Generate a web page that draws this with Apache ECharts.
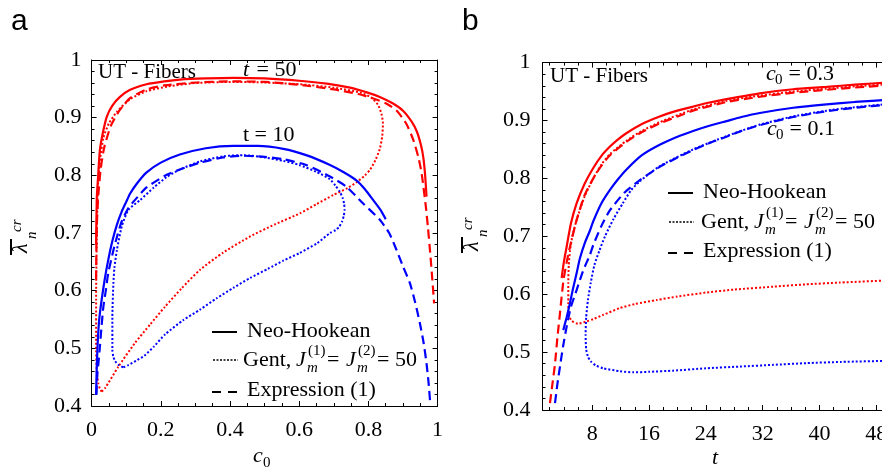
<!DOCTYPE html>
<html>
<head>
<meta charset="utf-8">
<script src="https://cdn.jsdelivr.net/npm/echarts@6/dist/echarts.min.js"></script>
<style>
html,body{margin:0;padding:0;overflow:hidden;background:#fff;}
#chart{width:900px;height:468px;}
</style>
</head>
<body>
<div id="chart"></div>
<script>
// ---------------- data: panel a (x = c0, y = lambda_n^cr) ----------------
const aRedNH = [[0.013,0.68],[0.015,0.76],[0.019,0.80],[0.024,0.844],[0.033,0.875],[0.044,0.902],[0.06,0.921],[0.082,0.936],[0.11,0.948],[0.159,0.958],[0.21,0.963],[0.255,0.966],[0.33,0.968],[0.41,0.969],[0.50,0.968],[0.60,0.964],[0.68,0.959],[0.747,0.952],[0.80,0.943],[0.833,0.936],[0.87,0.925],[0.90,0.912],[0.925,0.893],[0.94,0.876],[0.952,0.852],[0.959,0.83],[0.964,0.80],[0.968,0.763]];
const aRedExpr = [[0.013,0.62],[0.014,0.68],[0.016,0.73],[0.02,0.77],[0.026,0.81],[0.036,0.847],[0.055,0.885],[0.08,0.912],[0.111,0.934],[0.159,0.949],[0.21,0.956],[0.304,0.961],[0.40,0.963],[0.50,0.962],[0.60,0.957],[0.70,0.949],[0.77,0.941],[0.805,0.935],[0.85,0.925],[0.882,0.912],[0.91,0.889],[0.93,0.861],[0.945,0.83],[0.954,0.803],[0.966,0.746],[0.972,0.71],[0.978,0.67],[0.984,0.625],[0.99,0.578]];
const aRedGent = [[0.029,0.425],[0.039,0.431],[0.077,0.468],[0.125,0.509],[0.17,0.542],[0.212,0.572],[0.26,0.604],[0.313,0.636],[0.38,0.666],[0.458,0.694],[0.53,0.715],[0.602,0.734],[0.65,0.75],[0.699,0.766],[0.74,0.778],[0.766,0.788],[0.79,0.8],[0.805,0.81],[0.82,0.826],[0.833,0.846],[0.84,0.868],[0.842,0.89],[0.838,0.906],[0.828,0.922],[0.81,0.934],[0.78,0.943],[0.70,0.952],[0.60,0.958],[0.50,0.961],[0.41,0.962],[0.30,0.96],[0.22,0.954],[0.159,0.946],[0.111,0.932],[0.073,0.91],[0.05,0.89],[0.034,0.865],[0.025,0.83],[0.019,0.786],[0.015,0.70],[0.013,0.584],[0.013,0.497],[0.015,0.46],[0.019,0.44],[0.024,0.43],[0.029,0.425]];
const aBlueNH = [[0.013,0.419],[0.015,0.47],[0.018,0.514],[0.022,0.55],[0.029,0.584],[0.038,0.62],[0.048,0.653],[0.06,0.686],[0.073,0.714],[0.087,0.737],[0.10,0.754],[0.111,0.768],[0.13,0.785],[0.159,0.805],[0.20,0.822],[0.255,0.836],[0.33,0.847],[0.41,0.851],[0.48,0.851],[0.554,0.846],[0.62,0.835],[0.689,0.818],[0.73,0.805],[0.766,0.791],[0.79,0.776],[0.814,0.757],[0.835,0.74],[0.85,0.724]];
const aBlueExpr = [[0.014,0.42],[0.016,0.45],[0.019,0.47],[0.024,0.503],[0.029,0.54],[0.034,0.572],[0.041,0.60],[0.048,0.63],[0.063,0.67],[0.075,0.697],[0.087,0.72],[0.105,0.742],[0.125,0.757],[0.159,0.779],[0.217,0.801],[0.255,0.81],[0.313,0.822],[0.38,0.831],[0.44,0.834],[0.50,0.832],[0.554,0.828],[0.62,0.818],[0.689,0.798],[0.737,0.78],[0.785,0.751],[0.833,0.723],[0.86,0.70],[0.881,0.671],[0.90,0.642],[0.92,0.613],[0.935,0.58],[0.949,0.543],[0.96,0.508],[0.968,0.474],[0.974,0.44],[0.978,0.41]];
const aBlueGent = [[0.092,0.467],[0.106,0.471],[0.13,0.479],[0.152,0.487],[0.18,0.503],[0.212,0.524],[0.265,0.549],[0.313,0.567],[0.362,0.587],[0.41,0.605],[0.458,0.622],[0.51,0.638],[0.554,0.652],[0.60,0.665],[0.651,0.682],[0.689,0.70],[0.705,0.705],[0.716,0.711],[0.724,0.72],[0.729,0.73],[0.731,0.74],[0.73,0.75],[0.726,0.76],[0.718,0.771],[0.705,0.782],[0.689,0.793],[0.65,0.806],[0.60,0.818],[0.554,0.825],[0.50,0.831],[0.44,0.835],[0.38,0.833],[0.313,0.824],[0.255,0.81],[0.217,0.797],[0.18,0.779],[0.14,0.757],[0.106,0.74],[0.087,0.711],[0.073,0.67],[0.066,0.64],[0.063,0.613],[0.06,0.555],[0.06,0.497],[0.063,0.485],[0.068,0.478],[0.078,0.471],[0.092,0.467]];

// ---------------- data: panel b (x = t, y = lambda_n^cr) ----------------
const bRedNH = [[3.7,0.628],[4.0,0.655],[4.4,0.682],[5.0,0.722],[5.8,0.757],[6.9,0.79],[8.15,0.818],[9.3,0.839],[10.5,0.855],[11.6,0.867],[12.8,0.878],[15,0.894],[17.5,0.907],[20,0.917],[22.2,0.924],[24.5,0.931],[26.9,0.937],[31.6,0.947],[36.3,0.954],[41,0.958],[45,0.962],[50,0.966]];
const bRedExpr = [[2.05,0.412],[2.4,0.445],[2.76,0.48],[3.1,0.525],[3.46,0.567],[3.93,0.622],[4.4,0.655],[4.87,0.682],[5.8,0.728],[6.9,0.77],[8.15,0.80],[9.3,0.822],[10.5,0.84],[12.8,0.863],[15,0.88],[17.5,0.895],[20,0.907],[22.2,0.917],[26.9,0.932],[31.6,0.941],[36.3,0.948],[41,0.953],[45,0.957],[50,0.961]];
const bRedGent = [[50,0.963],[45,0.959],[41,0.955],[36.3,0.95],[31.6,0.943],[26.9,0.934],[22.2,0.919],[17.5,0.897],[15,0.882],[12.8,0.865],[10.5,0.842],[9.3,0.824],[8.15,0.80],[6.9,0.768],[5.8,0.728],[5.2,0.70],[4.87,0.675],[4.7,0.65],[4.63,0.62],[4.63,0.585],[4.7,0.565],[5.1,0.554],[6.0,0.549],[7.2,0.553],[8.15,0.557],[9.5,0.564],[11.9,0.576],[14,0.583],[17.1,0.59],[20,0.596],[24.1,0.603],[28,0.608],[33.5,0.613],[38,0.617],[42.8,0.62],[50,0.624]];
const bBlueNH = [[3.93,0.538],[4.4,0.56],[4.87,0.585],[5.3,0.61],[5.8,0.636],[6.27,0.662],[7.0,0.69],[7.68,0.71],[8.15,0.726],[9.3,0.757],[10.5,0.78],[11.6,0.798],[12.8,0.815],[15,0.84],[17.5,0.858],[20,0.872],[22.2,0.882],[24.5,0.891],[26.9,0.899],[29,0.906],[31.6,0.913],[36.3,0.922],[41,0.928],[45,0.932],[50,0.936]];
const bBlueExpr = [[2.76,0.412],[3.1,0.445],[3.46,0.475],[3.9,0.51],[4.4,0.544],[5.0,0.578],[5.8,0.607],[6.7,0.64],[7.68,0.668],[8.15,0.685],[9.3,0.718],[10.5,0.745],[12.5,0.775],[14.7,0.797],[17.5,0.82],[20,0.836],[22.2,0.849],[24.5,0.861],[26.9,0.872],[29,0.882],[31.6,0.892],[36.3,0.906],[41,0.916],[45,0.922],[50,0.928]];
const bBlueGent = [[50,0.929],[45,0.923],[41,0.917],[36.3,0.907],[31.6,0.893],[26.9,0.873],[22.2,0.85],[17.5,0.821],[14.7,0.795],[13.5,0.78],[12.3,0.757],[11.0,0.73],[9.8,0.70],[9.0,0.675],[8.3,0.65],[7.8,0.62],[7.4,0.59],[7.15,0.56],[7.07,0.53],[7.15,0.505],[7.4,0.492],[7.8,0.484],[8.5,0.477],[9.55,0.472],[11.9,0.467],[13.8,0.465],[16,0.466],[19.4,0.468],[24,0.472],[28.8,0.475],[33.5,0.478],[38.2,0.481],[43,0.483],[50,0.485]];

// ---------------- tick labels ----------------
const aXTicks = [0, 0.2, 0.4, 0.6, 0.8, 1];
const yTicks = [0.4, 0.5, 0.6, 0.7, 0.8, 0.9, 1];
const bXMajor = [8, 16, 24, 32, 40, 48];
const bXMinor = [2, 4, 6, 10, 12, 14, 18, 20, 22, 26, 28, 30, 34, 36, 38, 42, 44, 46, 50];

const RED = '#ff0000', BLUE = '#0000ff';
const SERIF = '"Liberation Serif", "Times New Roman", serif';
const SANS = '"Liberation Sans", Arial, sans-serif';

const fmt = v => String(+(+v).toFixed(2));
const lineAx = { show: true, onZero: false, lineStyle: { color: '#000', width: 1 } };
const lbl = (m, extra) => Object.assign({ color: '#000', fontFamily: SERIF, fontSize: 22, margin: m, formatter: fmt }, extra || {});

function valAxis(o) {
  return Object.assign({
    type: 'value', splitLine: { show: false }, axisLine: lineAx,
    axisTick: { show: true, inside: true, length: 5, lineStyle: { color: '#000', width: 1 } },
    minorTick: { show: false }
  }, o);
}

const xAxis = [
  valAxis({ gridIndex: 0, position: 'bottom', min: 0, max: 1, interval: 0.2,
    minorTick: { show: true, splitNumber: 4, length: 3, lineStyle: { color: '#000' } },
    axisLabel: lbl(13) }),
  valAxis({ gridIndex: 0, position: 'top', min: 0, max: 1, interval: 0.2,
    minorTick: { show: true, splitNumber: 4, length: 3, lineStyle: { color: '#000' } },
    axisLabel: { show: false } }),
  valAxis({ gridIndex: 1, position: 'bottom', min: 1, max: 50,
    axisTick: { show: true, inside: true, length: 5, customValues: bXMajor, lineStyle: { color: '#000' } },
    axisLabel: lbl(13, { customValues: bXMajor }) }),
  valAxis({ gridIndex: 1, position: 'bottom', min: 1, max: 50, axisLine: { show: false },
    axisTick: { show: true, inside: true, length: 3, customValues: bXMinor, lineStyle: { color: '#000' } },
    axisLabel: { show: false } }),
  valAxis({ gridIndex: 1, position: 'top', min: 1, max: 50,
    axisTick: { show: true, inside: true, length: 5, customValues: bXMajor, lineStyle: { color: '#000' } },
    axisLabel: { show: false } }),
  valAxis({ gridIndex: 1, position: 'top', min: 1, max: 50, axisLine: { show: false },
    axisTick: { show: true, inside: true, length: 3, customValues: bXMinor, lineStyle: { color: '#000' } },
    axisLabel: { show: false } })
];

function yAx(g, pos, lab, m) {
  return valAxis({ gridIndex: g, position: pos, min: 0.4, max: 1, interval: 0.1,
    minorTick: { show: true, splitNumber: 5, length: 3, lineStyle: { color: '#000' } },
    axisLabel: lab ? lbl(m) : { show: false } });
}
const yAxis = [yAx(0, 'left', true, 10), yAx(0, 'right', false), yAx(1, 'left', true, 12), yAx(1, 'right', false)];

function ser(data, color, kind, xi, yi) {
  const ls = { color: color, width: 2.2, type: 'solid' };
  if (kind === 'dash') { ls.type = [9, 5]; ls.width = 2.2; }
  if (kind === 'dot') { ls.type = [2, 2]; ls.width = 2; }
  return { type: 'line', data: data, xAxisIndex: xi, yAxisIndex: yi, showSymbol: false, symbol: 'none',
    smooth: 0.2, lineStyle: ls, silent: true, animation: false, z: kind === 'solid' ? 3 : 2 };
}

const series = [
  ser(aRedGent, RED, 'dot', 0, 0), ser(aRedExpr, RED, 'dash', 0, 0), ser(aRedNH, RED, 'solid', 0, 0),
  ser(aBlueGent, BLUE, 'dot', 0, 0), ser(aBlueExpr, BLUE, 'dash', 0, 0), ser(aBlueNH, BLUE, 'solid', 0, 0),
  ser(bRedGent, RED, 'dot', 2, 2), ser(bRedExpr, RED, 'dash', 2, 2), ser(bRedNH, RED, 'solid', 2, 2),
  ser(bBlueGent, BLUE, 'dot', 2, 2), ser(bBlueExpr, BLUE, 'dash', 2, 2), ser(bBlueNH, BLUE, 'solid', 2, 2)
];

// ---------------- text helpers ----------------
function txt(x, y, s, size, italic, fam) {
  return { type: 'text', x: x, y: y, silent: true, z: 10,
    style: { text: s, fill: '#000', textAlign: 'left', textVerticalAlign: 'middle',
      font: (italic ? 'italic ' : '') + size + 'px ' + (fam || SERIF) } };
}
function seg(x1, y1, x2, y2, dash, w) {
  return { type: 'line', silent: true, z: 10, shape: { x1: x1, y1: y1, x2: x2, y2: y2 },
    style: { stroke: '#000', lineWidth: w || 2, lineDash: dash || null } };
}
function lamLabel(gx, gy) {
  return { type: 'group', x: gx, y: gy, rotation: Math.PI / 2, silent: true, z: 10, children: [
    txt(0, 0, 'λ', 22, true),
    seg(-2, -10, 14, -10, null, 2),
    txt(21, -4, 'cr', 15, true),
    txt(14, 11, 'n', 15, true)
  ] };
}
function legend(lx, tx, y1, y2, y3, g0) {
  // Gent row pieces placed relative to start g0
  const off = [0, 53, 65, 64, 84, 103, 115, 114, 134];
  const gx = off.map(o => g0 + o);
  return [
    seg(lx, y1, lx + 25, y1, null, 2), txt(tx, y1 - 1, 'Neo-Hookean', 22),
    seg(lx + 1, y2, lx + 26, y2, [2, 1.5], 1.5),
    txt(gx[0], y2, 'Gent,', 22), txt(gx[1], y2, 'J', 22, true),
    txt(gx[2], y2 - 9, '(1)', 15), txt(gx[3], y2 + 8, 'm', 15, true),
    txt(gx[4], y2, '=', 22), txt(gx[5], y2, 'J', 22, true),
    txt(gx[6], y2 - 9, '(2)', 15), txt(gx[7], y2 + 8, 'm', 15, true),
    txt(gx[8], y2, '= 50', 22),
    seg(lx, y3, lx + 9, y3, null, 2), seg(lx + 16, y3, lx + 25, y3, null, 2),
    txt(tx, y3 - 2, 'Expression (1)', 22)
  ];
}

const graphic = [
  txt(11, 22, 'a', 30, false, SANS),
  txt(462, 22, 'b', 30, false, SANS),
  // panel a annotations
  txt(98, 72, 'UT - Fibers', 21),
  txt(243, 70, 't', 22, true), txt(251, 70, ' = 50', 22),
  txt(243, 135, 't = 10', 22),
  // panel b annotations
  txt(550, 76, 'UT - Fibers', 21),
  txt(766, 74, 'c', 22, true), txt(775, 80, '0', 15), txt(783, 74, ' = 0.3', 22),
  txt(767, 129, 'c', 22, true), txt(776, 135, '0', 15), txt(784, 129, ' = 0.1', 22),
  // axis names
  txt(253, 456, 'c', 22, true), txt(263, 463, '0', 15),
  txt(712, 458, 't', 22, true),
  lamLabel(21, 253),
  lamLabel(472, 251)
].concat(
  legend(212, 247, 332, 360, 392, 243),
  legend(668, 703, 193, 222, 253, 701)
);

const chart = echarts.init(document.getElementById('chart'), null, { renderer: 'canvas' });
chart.setOption({
  animation: false,
  backgroundColor: '#fff',
  grid: [
    { left: 91.6, top: 60, width: 346, height: 346, containLabel: false },
    { left: 542.5, top: 62.6, width: 348, height: 347.4, containLabel: false }
  ],
  xAxis: xAxis,
  yAxis: yAxis,
  series: series,
  graphic: graphic
});
</script>
</body>
</html>
